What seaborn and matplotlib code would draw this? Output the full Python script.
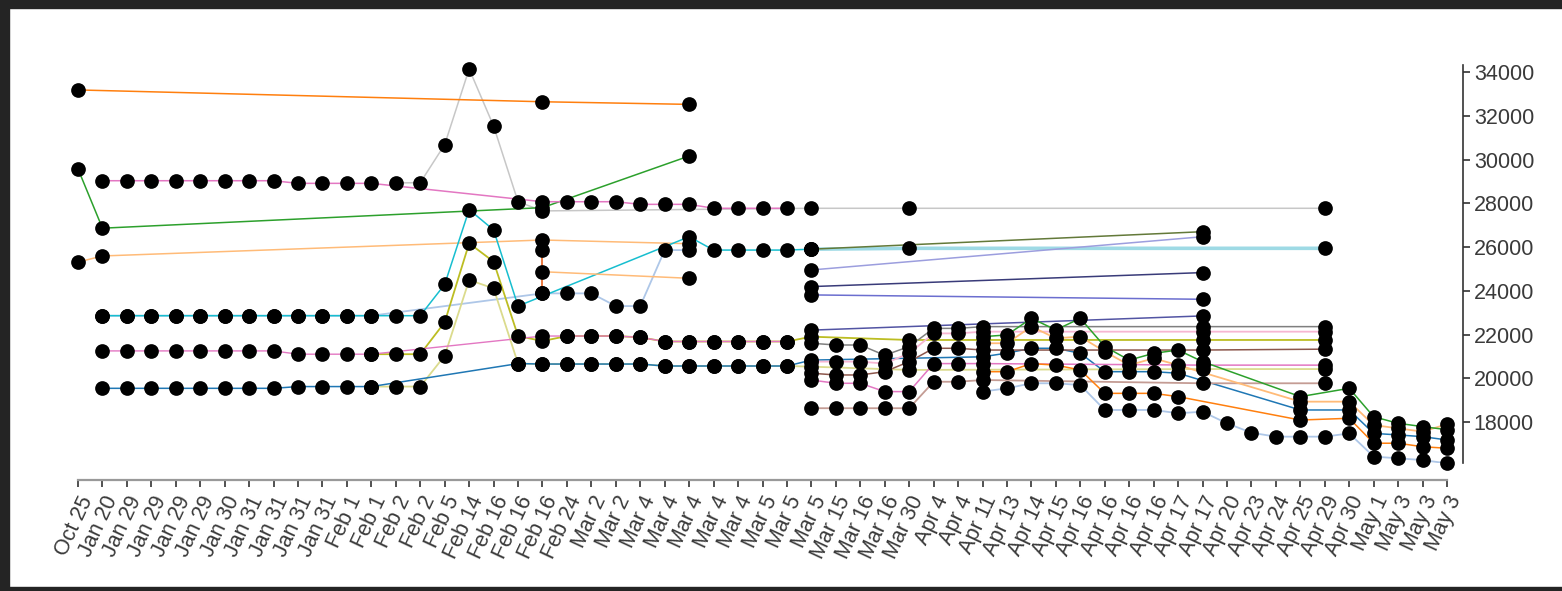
import matplotlib
matplotlib.use("Agg")
import matplotlib.pyplot as plt
from matplotlib.patches import Rectangle
import seaborn as sns
import pandas as pd

# x axis categories (one slot per observation, dates repeat)
dates = ["Oct 25", "Jan 20", "Jan 29", "Jan 29", "Jan 29", "Jan 29", "Jan 30",
         "Jan 31", "Jan 31", "Jan 31", "Jan 31", "Feb 1", "Feb 1", "Feb 2", "Feb 2",
         "Feb 5", "Feb 14", "Feb 16", "Feb 16", "Feb 16", "Feb 24", "Mar 2", "Mar 2",
         "Mar 4", "Mar 4", "Mar 4", "Mar 4", "Mar 4", "Mar 5", "Mar 5", "Mar 5",
         "Mar 15", "Mar 16", "Mar 16", "Mar 30", "Apr 4", "Apr 4", "Apr 11", "Apr 13",
         "Apr 14", "Apr 15", "Apr 16", "Apr 16", "Apr 16", "Apr 16", "Apr 17", "Apr 17",
         "Apr 20", "Apr 23", "Apr 24", "Apr 25", "Apr 29", "Apr 30", "May 1", "May 3",
         "May 3", "May 3"]
y_ticks = [18000, 20000, 22000, 24000, 26000, 28000, 30000, 32000, 34000]

# series: slot index + value
orange_top_i = [0, 19, 25]
orange_top_v = [33180, 32640, 32520]

green_left_i = [0, 1, 19, 25]
green_left_v = [29570, 26860, 27800, 30160]

peach_top_i = [0, 1, 19, 25]
peach_top_v = [25310, 25590, 26320, 26150]

pink_top_i = [1, 2, 3, 4, 5, 6, 7, 8, 9, 10, 11, 12, 19, 20, 21, 22, 23, 24, 25, 26, 27, 28, 29]
pink_top_v = [29030, 29030, 29030, 29030, 29030, 29030, 29030, 29030, 28910, 28910, 28910, 28910,
              28070, 28070, 28070, 28070, 27950, 27950, 27950, 27770, 27770, 27770, 27770]

gray_top_i = [13, 14, 15, 16, 17, 18, 19, 30, 34, 51]
gray_top_v = [28930, 28940, 30680, 34140, 31530, 28070, 27650, 27770, 27770, 27770]

cyan_i = [1, 2, 3, 4, 5, 6, 7, 8, 9, 10, 11, 12, 13, 14, 15, 16, 17, 18, 25, 26, 27, 28, 29, 30]
cyan_v = [22860, 22860, 22860, 22860, 22860, 22860, 22860, 22860, 22860, 22860, 22860, 22860,
          22860, 22860, 24290, 27710, 26780, 23300, 26470, 25860, 25860, 25860, 25860, 25900]

ltcyan_i = [30, 34, 51]
ltcyan_v = [25900, 25940, 25940]

ltblue_left_i = [1, 2, 3, 4, 5, 6, 7, 8, 9, 10, 11, 12, 19, 20, 21, 22, 23, 24, 25]
ltblue_left_v = [22860, 22860, 22860, 22860, 22860, 22860, 22860, 22860, 22860, 22860, 22860,
                 22860, 23880, 23880, 23880, 23300, 23300, 25860, 25860]

red_i = [19, 19]
red_v = [25870, 23880]

peach_mid_i = [19, 25]
peach_mid_v = [24870, 24570]

pink_low_i = [1, 2, 3, 4, 5, 6, 7, 8, 9, 10, 11, 12, 19, 20, 21, 22, 23, 24, 25, 26, 27, 28, 29]
pink_low_v = [21250, 21250, 21250, 21250, 21250, 21250, 21250, 21250, 21100, 21100, 21100, 21100,
              21930, 21930, 21930, 21930, 21870, 21680, 21680, 21680, 21680, 21680, 21680]

olive_i = [12, 13, 14, 15, 16, 17, 18, 19, 20, 21, 22, 23, 24, 25, 26, 27, 28, 29, 30, 34, 46, 51]
olive_v = [21100, 21100, 21100, 22560, 26170, 25330, 21930, 21700, 21930, 21930, 21930, 21870,
           21680, 21680, 21680, 21680, 21680, 21680, 21900, 21750, 21750, 21750]

blue_i = [1, 2, 3, 4, 5, 6, 7, 8, 9, 10, 11, 12, 18, 19, 20, 21, 22, 23, 24, 25, 26, 27, 28, 29,
          30, 37, 38, 39, 40, 41, 42, 43, 44, 45, 50, 52, 53, 54, 55, 56]
blue_v = [19540, 19540, 19540, 19540, 19540, 19540, 19540, 19540, 19620, 19620, 19620, 19620,
          20670, 20650, 20650, 20650, 20650, 20650, 20560, 20560, 20560, 20560, 20560, 20560,
          20830, 20980, 21150, 21370, 21370, 21140, 20300, 20300, 20300, 20230, 18550, 18550,
          17480, 17410, 17330, 17180]

ltolive_i = [12, 13, 14, 15, 16, 17, 18, 19, 20, 21, 22, 23, 24, 25, 26, 27, 28, 29, 30, 34, 46, 51]
ltolive_v = [19620, 19620, 19620, 21030, 24490, 24110, 20670, 20650, 20650, 20650, 20650, 20650,
             20560, 20560, 20560, 20560, 20560, 20560, 20530, 20380, 20420, 20420]

dkolive_i = [30, 46]
dkolive_v = [25900, 26700]
lavender_i = [30, 46]
lavender_v = [24950, 26470]
navy_i = [30, 46]
navy_v = [24190, 24830]
violet_i = [30, 46]
violet_v = [23810, 23610]
slate_i = [30, 46]
slate_v = [22200, 22850]

gray_mid_i = [30, 31, 32, 33, 34, 35, 36, 37, 46, 51]
gray_mid_v = [21600, 21520, 21520, 21050, 21450, 22280, 22280, 22360, 22360, 22360]

ltpink_i = [30, 31, 32, 33, 34, 35, 36, 37, 46, 51]
ltpink_v = [20760, 20760, 20760, 20670, 21140, 22050, 22050, 22130, 22130, 22130]

brown_i = [30, 31, 32, 33, 34, 35, 36, 37, 46, 51]
brown_v = [20230, 20150, 20150, 20300, 20760, 21370, 21370, 21290, 21290, 21330]

magenta_i = [30, 31, 32, 33, 34, 35, 36, 37, 46, 51]
magenta_v = [19920, 19770, 19770, 19390, 19390, 20670, 20670, 20670, 20600, 20600]

ltbrown_i = [30, 31, 32, 33, 34, 35, 36, 37, 46, 51]
ltbrown_v = [18630, 18630, 18630, 18630, 18630, 19840, 19840, 19920, 19770, 19770]

green_right_i = [37, 38, 39, 40, 41, 42, 43, 44, 45, 46, 50, 52, 53, 54, 55, 56]
green_right_v = [21900, 21980, 22740, 22210, 22740, 21450, 20830, 21140, 21290, 20760, 19160,
                 19540, 18240, 17940, 17790, 17650]

peach_right_i = [37, 38, 39, 40, 41, 42, 43, 44, 45, 50, 52, 53, 54, 55, 56]
peach_right_v = [21600, 21600, 22360, 21830, 21900, 21220, 20600, 20910, 20600, 18930, 18930,
                 17860, 17710, 17560, 17900]

orange_right_i = [37, 38, 39, 40, 41, 42, 43, 44, 45, 50, 52, 53, 54, 55, 56]
orange_right_v = [20300, 20300, 20670, 20600, 20380, 19310, 19310, 19310, 19160, 18090, 18170,
                  17030, 17030, 16870, 16800]

ltblue_right_i = [37, 38, 39, 40, 41, 42, 43, 44, 45, 46, 47, 48, 49, 50, 51, 52, 53, 54, 55, 56]
ltblue_right_v = [19390, 19540, 19770, 19770, 19690, 18550, 18550, 18550, 18400, 18470, 17940,
                  17510, 17330, 17330, 17330, 17480, 16420, 16340, 16260, 16110]

series = [
    ("gray_top", gray_top_i, gray_top_v, "#c7c7c7", 1.1),
    ("orange_top", orange_top_i, orange_top_v, "#ff7f0e", 1.1),
    ("green_left", green_left_i, green_left_v, "#2ca02c", 1.1),
    ("peach_top", peach_top_i, peach_top_v, "#ffbb78", 1.1),
    ("pink_top", pink_top_i, pink_top_v, "#e377c2", 1.1),
    ("ltcyan", ltcyan_i, ltcyan_v, "#9edae5", 2.6),
    ("ltblue_left", ltblue_left_i, ltblue_left_v, "#aec7e8", 1.3),
    ("cyan", cyan_i, cyan_v, "#17becf", 1.1),
    ("red", red_i, red_v, "#e6550d", 1.1),
    ("peach_mid", peach_mid_i, peach_mid_v, "#ffbb78", 1.1),
    ("ltolive", ltolive_i, ltolive_v, "#dbdb8d", 1.3),
    ("blue", blue_i, blue_v, "#1f77b4", 1.1),
    ("olive", olive_i, olive_v, "#bcbd22", 1.3),
    ("pink_low", pink_low_i, pink_low_v, "#e377c2", 1.0),
    ("dkolive", dkolive_i, dkolive_v, "#637939", 1.1),
    ("lavender", lavender_i, lavender_v, "#9c9ede", 1.1),
    ("navy", navy_i, navy_v, "#393b79", 1.1),
    ("violet", violet_i, violet_v, "#6b6ecf", 1.1),
    ("slate", slate_i, slate_v, "#5254a3", 1.1),
    ("gray_mid", gray_mid_i, gray_mid_v, "#7f7f7f", 1.1),
    ("ltpink", ltpink_i, ltpink_v, "#f7b6d2", 1.3),
    ("brown", brown_i, brown_v, "#8c564b", 1.1),
    ("magenta", magenta_i, magenta_v, "#e377c2", 1.1),
    ("ltbrown", ltbrown_i, ltbrown_v, "#c49c94", 1.3),
    ("ltblue_right", ltblue_right_i, ltblue_right_v, "#aec7e8", 1.3),
    ("orange_right", orange_right_i, orange_right_v, "#ff7f0e", 1.1),
    ("peach_right", peach_right_i, peach_right_v, "#ffbb78", 1.3),
    ("green_right", green_right_i, green_right_v, "#2ca02c", 1.1),
]

frames = []
for name, idx, vals, color, lw in series:
    frames.append(pd.DataFrame({"slot": idx, "price": vals, "series": name}))
df = pd.concat(frames, ignore_index=True)

sns.set_style("white")
plt.rcParams["font.family"] = ["Liberation Sans", "DejaVu Sans"]

fig = plt.figure(figsize=(15.62, 5.91), dpi=100)
ax = fig.add_axes([78 / 1562, (591 - 463) / 591, (1447 - 78) / 1562, (463 - 65) / 591])

for name, idx, vals, color, lw in series:
    sub = df[df["series"] == name]
    sns.lineplot(data=sub, x="slot", y="price", sort=False, estimator=None,
                 color=color, linewidth=lw, ax=ax, zorder=2)

sns.scatterplot(data=df, x="slot", y="price", color="black", s=112, linewidth=0,
                ax=ax, zorder=3, clip_on=False)

ax.set_xlim(0, 56)
ax.set_ylim(16126, 34320)
ax.set_xlabel("")
ax.set_ylabel("")
for s in ["left", "top"]:
    ax.spines[s].set_visible(False)
# outward offsets are in points (px * 0.72)
ax.spines["bottom"].set_position(("outward", 12.3))
ax.spines["right"].set_position(("outward", 11.3))
ax.spines["bottom"].set_color("#999999")
ax.spines["bottom"].set_linewidth(1.6)
ax.spines["right"].set_color("#333333")
ax.spines["right"].set_linewidth(1.2)

ax.yaxis.tick_right()
ax.set_yticks(y_ticks)
ax.set_yticklabels([str(t) for t in y_ticks])
ax.set_xticks(range(len(dates)))
ax.set_xticklabels(dates, rotation=65, ha="right", rotation_mode="anchor")
ax.tick_params(axis="x", length=5, width=1.2, color="#333333", labelsize=15.5,
               labelcolor="#3a3a3a", pad=4, bottom=True)
ax.tick_params(axis="y", length=5, width=1.2, color="#333333", labelsize=15.5,
               labelcolor="#3a3a3a", pad=3, right=True, left=False)

# dark frame around the chart
frame = "#242424"
fig.patches.append(Rectangle((0, 1 - 8 / 591), 1, 8 / 591, transform=fig.transFigure,
                             color=frame, zorder=0))
fig.patches.append(Rectangle((0, 0), 9 / 1562, 1, transform=fig.transFigure,
                             color=frame, zorder=0))
fig.patches.append(Rectangle((0, 0), 1, 4 / 591, transform=fig.transFigure,
                             color=frame, zorder=0))

fig.savefig("out.png", dpi=100, facecolor="white")
